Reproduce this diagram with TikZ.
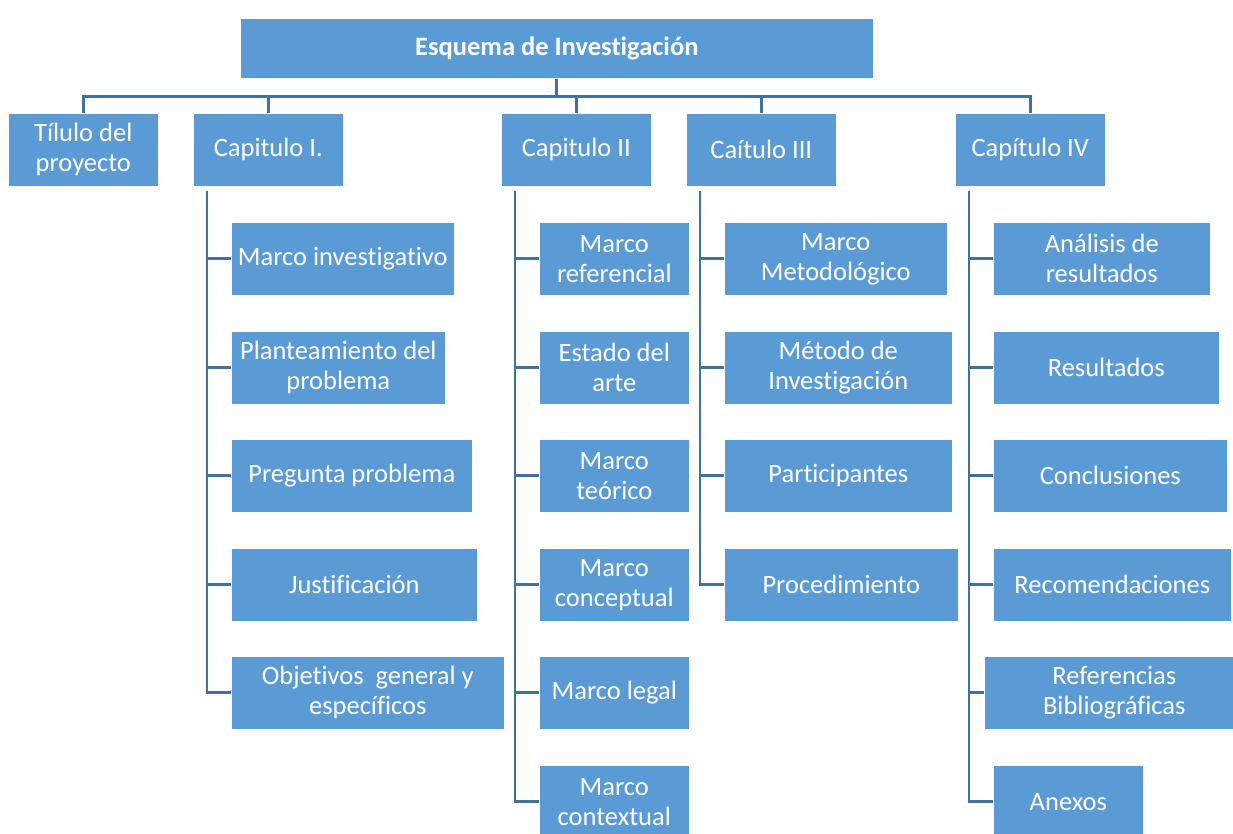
\documentclass[tikz,border=0pt]{standalone}
\usepackage{fontspec}
\setmainfont{Carlito}[Ligatures=NoCommon]

\definecolor{boxblue}{HTML}{5B9BD5}
\definecolor{lineblue}{HTML}{41719C}

\tikzset{
	box/.style={fill=boxblue, draw=white, line width=0.6pt, anchor=north west, minimum height=73pt, inner sep=0pt, align=center, text=white, font=\fontsize{26.5}{30}\selectfont},
	link/.style={draw=lineblue, line width=2.8pt},
}

\begin{document}
\begin{tikzpicture}[x=1pt, y=-1pt]
	\clip (0,0) rectangle (1233,834);

	\node[box, minimum width=633pt, minimum height=60pt, font=\fontsize{26.5}{30}\selectfont\bfseries] (esq) at (240,18) {Esquema de Investigación};

	\node[box, minimum width=150pt] (tit) at (8,113) {Tílulo del\\proyecto};
	\node[box, minimum width=150pt] (cap1) at (193,113) {Capitulo I.};
	\node[box, minimum width=150pt] (cap2) at (501,113) {Capitulo II};
	\node[box, minimum width=150pt] (cap3) at (686,113) {Caítulo III};
	\node[box, minimum width=150pt] (cap4) at (955,113) {Capítulo IV};

	\node[box, minimum width=223pt] (mi) at (231,222) {Marco investigativo};
	\node[box, minimum width=214pt] (pp) at (231,331) {Planteamiento del\\problema};
	\node[box, minimum width=241pt] (pr) at (231,439) {Pregunta problema};
	\node[box, minimum width=246pt] (ju) at (231,548) {Justificación};
	\node[box, minimum width=273pt] (ob) at (231,656) {Objetivos~ general y\\específicos};

	\node[box, minimum width=150pt] (mref) at (539,222) {Marco\\referencial};
	\node[box, minimum width=150pt] (ea) at (539,331) {Estado del\\arte};
	\node[box, minimum width=150pt] (mt) at (539,439) {Marco\\teórico};
	\node[box, minimum width=150pt] (mc) at (539,548) {Marco\\conceptual};
	\node[box, minimum width=150pt] (ml) at (539,656) {Marco legal};
	\node[box, minimum width=150pt] (mctx) at (539,765) {Marco\\contextual};

	\node[box, minimum width=223pt] (mm) at (724,222) {Marco\\Metodológico};
	\node[box, minimum width=228pt] (mdi) at (724,331) {Método de\\Investigación};
	\node[box, minimum width=228pt] (pa) at (724,439) {Participantes};
	\node[box, minimum width=234pt] (pro) at (724,548) {Procedimiento};

	\node[box, minimum width=217pt] (ar) at (993,222) {Análisis de\\resultados};
	\node[box, minimum width=226pt] (re) at (993,331) {Resultados};
	\node[box, minimum width=234pt] (co) at (993,439) {Conclusiones};
	\node[box, minimum width=238pt] (rec) at (993,548) {Recomendaciones};
	\node[box, minimum width=260pt] (rb) at (984,656) {Referencias\\Bibliográficas};
	\node[box, minimum width=150pt] (an) at (993,765) {Anexos};

	\coordinate (bus) at ([yshift=-18pt]esq.south);
	\foreach \n in {tit,cap1,cap2,cap3,cap4}
		\draw[link] (esq.south) -- (bus) -| (\n.north);

	\coordinate (l1) at ([xshift=14pt,yshift=-4pt]cap1.south west);
	\coordinate (l2) at ([xshift=14pt,yshift=-4pt]cap2.south west);
	\coordinate (l3) at ([xshift=14pt,yshift=-4pt]cap3.south west);
	\coordinate (l4) at ([xshift=14pt,yshift=-4pt]cap4.south west);
	\foreach \n in {mi,pp,pr,ju,ob}
		\draw[link] (l1) |- (\n.west);
	\foreach \n in {mref,ea,mt,mc,ml,mctx}
		\draw[link] (l2) |- (\n.west);
	\foreach \n in {mm,mdi,pa,pro}
		\draw[link] (l3) |- (\n.west);
	\foreach \n in {ar,re,co,rec,rb,an}
		\draw[link] (l4) |- (\n.west);
\end{tikzpicture}
\end{document}
